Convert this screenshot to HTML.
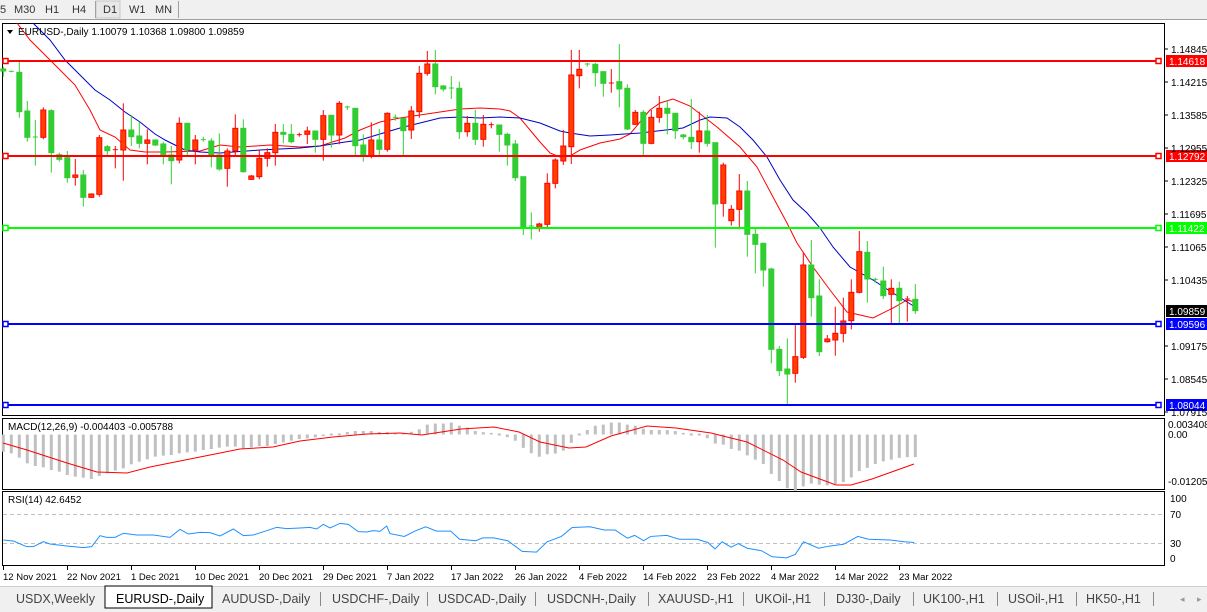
<!DOCTYPE html>
<html><head><meta charset="utf-8">
<style>
html,body{margin:0;padding:0;background:#fff;}
body{width:1207px;height:612px;overflow:hidden;position:relative;font-family:"Liberation Sans",sans-serif;}
svg{position:absolute;left:0;top:0;}
text{font-family:"Liberation Sans",sans-serif;}
</style></head><body>
<svg id="s" width="1207" height="612" xmlns="http://www.w3.org/2000/svg">
<rect x="0" y="0" width="1207" height="19" fill="#f0f0f0"/>
<line x1="0" y1="19.5" x2="1207" y2="19.5" stroke="#a0a0a0"/>
<rect x="96" y="1" width="24" height="17" fill="#e8e8e8" stroke="#c8c8c8"/>
<line x1="95.5" y1="1" x2="95.5" y2="18" stroke="#a0a0a0"/>
<line x1="178.5" y1="1" x2="178.5" y2="18" stroke="#a0a0a0"/>
<g font-size="11" fill="#333">
<text x="0" y="13">5</text><text x="14" y="13">M30</text><text x="45" y="13">H1</text><text x="72" y="13">H4</text>
<text x="103" y="13">D1</text><text x="129" y="13">W1</text><text x="155" y="13">MN</text></g>
<rect x="2.5" y="23.5" width="1162" height="392" fill="#fff" stroke="#000"/>
<rect x="2.5" y="418.5" width="1162" height="71" fill="#fff" stroke="#000"/>
<rect x="2.5" y="491.5" width="1162" height="74" fill="#fff" stroke="#000"/>
<g id="g"></g>
<rect x="0" y="586" width="1207" height="26" fill="#f0f0f0"/>
<line x1="0" y1="586.5" x2="1207" y2="586.5" stroke="#d0d0d0"/>
<rect x="105" y="586" width="107" height="22" fill="#fff" stroke="#000"/>
<g font-size="12.5" fill="#444">
<text x="16" y="603">USDX,Weekly</text><text x="116" y="603" fill="#000">EURUSD-,Daily</text>
<text x="222" y="603">AUDUSD-,Daily</text><text x="332" y="603">USDCHF-,Daily</text>
<text x="438" y="603">USDCAD-,Daily</text><text x="547" y="603">USDCNH-,Daily</text>
<text x="658" y="603">XAUUSD-,H1</text><text x="755" y="603">UKOil-,H1</text>
<text x="836" y="603">DJ30-,Daily</text><text x="923" y="603">UK100-,H1</text>
<text x="1008" y="603">USOil-,H1</text><text x="1086" y="603">HK50-,H1</text>
<text x="1180" y="602" font-size="9" fill="#999">◂</text><text x="1197" y="602" font-size="9" fill="#999">▸</text>
</g>
<g stroke="#888"><line x1="320.5" y1="592" x2="320.5" y2="606"/><line x1="427.5" y1="592" x2="427.5" y2="606"/><line x1="535.5" y1="592" x2="535.5" y2="606"/><line x1="648.5" y1="592" x2="648.5" y2="606"/><line x1="743.5" y1="592" x2="743.5" y2="606"/><line x1="824.5" y1="592" x2="824.5" y2="606"/><line x1="913.5" y1="592" x2="913.5" y2="606"/><line x1="997.5" y1="592" x2="997.5" y2="606"/><line x1="1076.5" y1="592" x2="1076.5" y2="606"/><line x1="1153.5" y1="592" x2="1153.5" y2="606"/></g>
</svg>
<script>
var NS="http://www.w3.org/2000/svg",G=document.getElementById("g");
function el(t,a,txt){var e=document.createElementNS(NS,t);for(var k in a)e.setAttribute(k,a[k]);if(txt!=null)e.textContent=txt;G.appendChild(e);return e;}
function X(i){return 3.3+8*i;}
var A=[["g",140,147,153,170],["g",152,154,156,157],["g",120,157,275,293],["g",243,273,352,365],["g",300,351,353,437],["r",262,270,352,358],["g",268,272,398,458],["g",398,404,418,425],["g",393,413,473,488],["r",417,465,472,497],["g",450,465,532,560],["r",520,522,532,534],["r",345,353,523,530],["g",375,380,392,410],["r",378,389,391,445],["r",250,330,390,482],["g",285,330,350,378],["g",305,348,370,385],["r",328,360,370,433],["g",358,360,375,378],["g",365,372,408,433],["g",378,405,422,493],["r",292,310,420,430],["g",310,310,390,410],["r",345,360,390,433],["g",350,359,361,365],["g",355,363,407,442],["g",340,405,447,452],["r",385,393,445,500],["r",283,325,393,405],["g",298,325,455,458],["r",465,468,478,480],["r",390,415,470,478],["r",385,398,415,440],["r",312,337,398,437],["g",312,337,343,370],["g",312,343,365,370],["r",338,344,346,350],["r",320,333,343,372],["g",333,333,358,398]];
var B=[["r",270,287,358,422],["g",286,286,345,383],["r",243,250,345,373],["g",257,261,263,270],["g",265,265,377,410],["g",343,375,408,425],["r",307,360,408,415],["g",327,360,388,405],["r",277,280,388,395],["g",283,292,294,302],["g",295,295,332,405],["r",258,273,330,357],["r",138,160,275,293],["r",93,132,160,167],["g",90,132,200,223],["g",195,198,207,215],["g",168,204,206,237],["g",185,205,335,357],["r",288,310,335,350],["g",270,310,358,375],["r",285,313,358,380],["r",307,314,316,325],["g",315,315,343,395],["g",338,343,375,437],["g",360,372,473,483],["g",470,470,625,645],["g",577,618,622,658],["r",608,612,622,635],["r",460,490,613,625],["r",415,420,490,505],["r",330,378,423,435],["r",90,165,380,432],["r",90,148,167,205],["g",128,132,134,140],["g",128,133,158,200],["g",155,155,190,230],["r",147,189,191,218],["g",72,185,207,262],["g",193,205,327,330],["r",270,277,313,315]];
var C=[["g",90,97,190,230],["r",90,112,190,193],["r",48,85,112,128],["g",62,85,100,163],["g",98,100,152,177],["g",162,165,170,178],["g",57,172,185,207],["r",95,153,185,218],["g",105,153,190,200],["g",188,188,372,503],["r",248,255,370,410],["r",375,388,422,437],["r",282,333,388,448],["g",303,333,463,530],["g",445,463,493,580],["g",488,490,570,620],["g",563,567,808,850],["g",798,808,872,888],["g",775,867,882,975],["r",733,830,880,908],["r",518,555,832,837],["g",480,555,653,710],["g",598,648,815,828],["r",765,777,785,788],["r",680,760,780,827],["r",653,723,760,787],["r",598,637,722,748],["r",453,515,637,640],["g",483,517,597,668],["g",593,598,602,608],["g",560,603,647,657],["r",598,625,643,733],["g",605,625,662,733],["r",648,657,659,725],["g",612,658,692,702]];
var all=[];A.forEach(function(c){all.push([c[0]].concat(c.slice(1).map(function(v){return v/3+20;})));});
B.forEach(function(c){all.push([c[0]].concat(c.slice(1).map(function(v){return v/3+20;})));});
C.forEach(function(c){all.push([c[0]].concat(c.slice(1).map(function(v){return v/3+80;})));});
var H3=[125,130,143,160,168,172,180,185,195,200,203,207,198,190,182,175,163,155,148,140,137,135,130,127,125,120,117,113,110,110,115,112,108,108,102,97,92,87,85,82,78,75,70];
var H7=[50,50,47,40,27,24,24,21,30,35,45,48,50,57,62,72,92,107,117,110,108,100,78,57,42,30,27,21,21,27,30,38,42,42,42,45,50,57,57,65,80,83,95,100,113,125,137,165,185,205,212,200,192,195,197,193,188,175,157,148,137,130,125,120,118,118];
var hy=[];H3.forEach(function(v){hy.push(410+v/3);});[432,431,431,431,432,432].forEach(function(v){hy.push(v);});H7.forEach(function(v){hy.push(415+v/2.8);});
var zero=434.5;
for(var i=0;i<hy.length;i++){var y=hy[i],x=X(i);if(Math.abs(y-zero)<1.2){el("rect",{x:x-1.5,y:zero-1,width:3,height:2,fill:"#c0c0c0"});continue;}
el("rect",{x:x-1.5,y:Math.min(y,zero),width:3,height:Math.abs(y-zero),fill:"#c0c0c0"});}
function hl(y,c,lab,lc){el("line",{x1:3,y1:y,x2:1160,y2:y,stroke:c,"stroke-width":2});
el("rect",{x:3,y:y-2.5,width:5,height:5,fill:"#fff",stroke:c,"stroke-width":1.5});
el("rect",{x:1156,y:y-2.5,width:5,height:5,fill:"#fff",stroke:c,"stroke-width":1.5});
el("rect",{x:1166,y:y-6,width:41,height:12,fill:c});el("text",{x:1169,y:y+4,"font-size":"10",fill:lc||"#fff"},lab);}
function pl(pts,c){el("polyline",{points:pts.map(function(p){return p.join(",");}).join(" "),fill:"none",stroke:c,"stroke-width":1});}
pl([[17,23],[30,40],[45,55],[60,70],[75,85],[90,110],[100,130],[115,137],[130,150],[145,152],[165,152],[200,151],[220,145],[240,147],[270,145],[300,147],[320,146],[345,138],[360,130],[380,122],[400,118],[420,115],[440,112],[460,109],[480,108],[500,109],[510,111],[520,118],[530,130],[540,142],[550,153],[560,157],[570,156],[580,150],[600,143],[620,139],[630,134],[640,122],[650,110],[660,103],[673,99],[690,106],[717,127],[740,147],[757,167],[773,197],[787,223],[797,243],[813,267],[830,290],[847,312],[873,318],[893,308],[907,300],[915,302]],"#ff0000");
pl([[33,23],[50,40],[65,60],[80,75],[95,90],[110,100],[125,112],[140,122],[155,134],[165,140],[175,145],[185,150],[200,152],[220,153],[260,150],[300,148],[320,146],[345,142],[360,140],[380,134],[400,128],[420,123],[440,118],[460,117],[480,118],[500,117],[520,118],[540,123],[550,127],[560,131],[570,133],[590,136],[610,135],[640,133],[683,128],[700,120],[710,117],[727,118],[740,127],[753,140],[767,157],[780,180],[793,200],[807,213],[820,228],[833,247],[850,267],[873,280],[893,293],[915,307]],"#0000c8");
all.forEach(function(c,i){var x=X(i),col=c[0]=="g"?"#32cd32":"#ff0000",fill=c[0]=="g"?"#32cd32":"#ff4000";
el("line",{x1:x,y1:c[1],x2:x,y2:c[4],stroke:col,"stroke-width":1});
var h=Math.max(c[3]-c[2],1);
if(h<=1.5){el("line",{x1:x-2.5,y1:c[2],x2:x+2.5,y2:c[2],stroke:col,"stroke-width":1});}
else el("rect",{x:x-2.5,y:c[2],width:5,height:h,fill:fill,stroke:col,"stroke-width":1});});
hl(61,"#ff0000","1.14618");hl(156,"#ff0000","1.12792");hl(228,"#00ff00","1.11422");hl(324,"#0000ff","1.09596");hl(405,"#0000ff","1.08044");
el("rect",{x:1166,y:305,width:41,height:12,fill:"#000"});el("text",{x:1169,y:315,"font-size":"10",fill:"#fff"},"1.09859");
[["1.14845",49],["1.14215",82],["1.13585",115],["1.12955",148],["1.12325",181],["1.11695",214],["1.11065",247],["1.10435",280],["1.09175",346],["1.08545",379],["1.07915",412]].forEach(function(p){
el("line",{x1:1165,y1:p[1],x2:1168,y2:p[1],stroke:"#000"});el("text",{x:1171,y:p[1]+4,"font-size":"10",fill:"#000"},p[0]);});
el("path",{d:"M7 30 L13 30 L10 34 Z",fill:"#000"});
el("text",{x:18,y:35,"font-size":"10",fill:"#000"},"EURUSD-,Daily  1.10079 1.10368 1.09800 1.09859");
pl([[3,443],[27,450],[67,463],[97,472],[127,473],[150,467],[200,457],[240,449],[273,447],[300,441],[333,437],[367,434],[400,433],[422,435],[461,429],[494,427],[519,432],[540,442],[569,448],[586,447],[611,436],[647,426],[676,428],[711,433],[747,442],[783,460],[801,472],[836,485],[851,485],[872,479],[914,464]],"#ff0000");
el("text",{x:8,y:430,"font-size":"10",fill:"#000"},"MACD(12,26,9) -0.004403 -0.005788");
[["0.003408",428],["0.00",438],["-0.012058",485]].forEach(function(p){el("text",{x:1168,y:p[1],"font-size":"10",fill:"#000"},p[0]);});
el("line",{x1:3,y1:514.5,x2:1164,y2:514.5,stroke:"#c0c0c0","stroke-dasharray":"4,3"});
el("line",{x1:3,y1:543.5,x2:1164,y2:543.5,stroke:"#c0c0c0","stroke-dasharray":"4,3"});
var r3=[[10,390],[40,393],[80,410],[100,410],[130,395],[150,402],[200,408],[250,413],[275,410],[300,377],[320,382],[345,382],[370,370],[410,375],[460,375],[510,382],[540,358],[565,372],[600,367],[630,368],[660,378],[700,357],[730,377],[760,375],[800,362],[830,352],[860,356],[900,354],[930,352],[950,357],[970,343],[990,354],[1020,340],[1045,343],[1075,365],[1100,366],[1120,362],[1140,364],[1160,348]].map(function(p){return [p[0]/3,410+p[1]/3];});
var r7=[[0,332],[40,340],[70,325],[100,313],[130,325],[170,325],[195,348],[240,352],[260,344],[290,344],[330,352],[370,382],[410,384],[440,355],[480,340],[510,315],[560,313],[600,322],[630,322],[665,345],[685,337],[710,352],[730,340],[775,337],[810,348],[860,348],[890,357],[910,375],[930,355],[955,370],[975,360],[1000,373],[1040,380],[1070,397],[1110,400],[1135,390],[1158,355],[1200,373],[1230,367],[1270,362],[1310,340],[1340,348],[1400,350],[1440,355],[1468,357]].map(function(p){return [390+p[0]/2.8,415+p[1]/2.8];});
pl(r3.concat(r7),"#1e90ff");
el("text",{x:8,y:503,"font-size":"10",fill:"#000"},"RSI(14) 42.6452");
[["100",502],["70",518],["30",547],["0",562]].forEach(function(p){el("text",{x:1170,y:p[1],"font-size":"10",fill:"#000"},p[0]);});
[["12 Nov 2021",3],["22 Nov 2021",67],["1 Dec 2021",131],["10 Dec 2021",195],["20 Dec 2021",259],["29 Dec 2021",323],["7 Jan 2022",387],["17 Jan 2022",451],["26 Jan 2022",515],["4 Feb 2022",579],["14 Feb 2022",643],["23 Feb 2022",707],["4 Mar 2022",771],["14 Mar 2022",835],["23 Mar 2022",899]].forEach(function(d){
el("line",{x1:d[1]+0.5,y1:566,x2:d[1]+0.5,y2:570,stroke:"#000"});el("text",{x:d[1],y:580,"font-size":"9.5",fill:"#000"},d[0]);});
</script>
</body></html>
